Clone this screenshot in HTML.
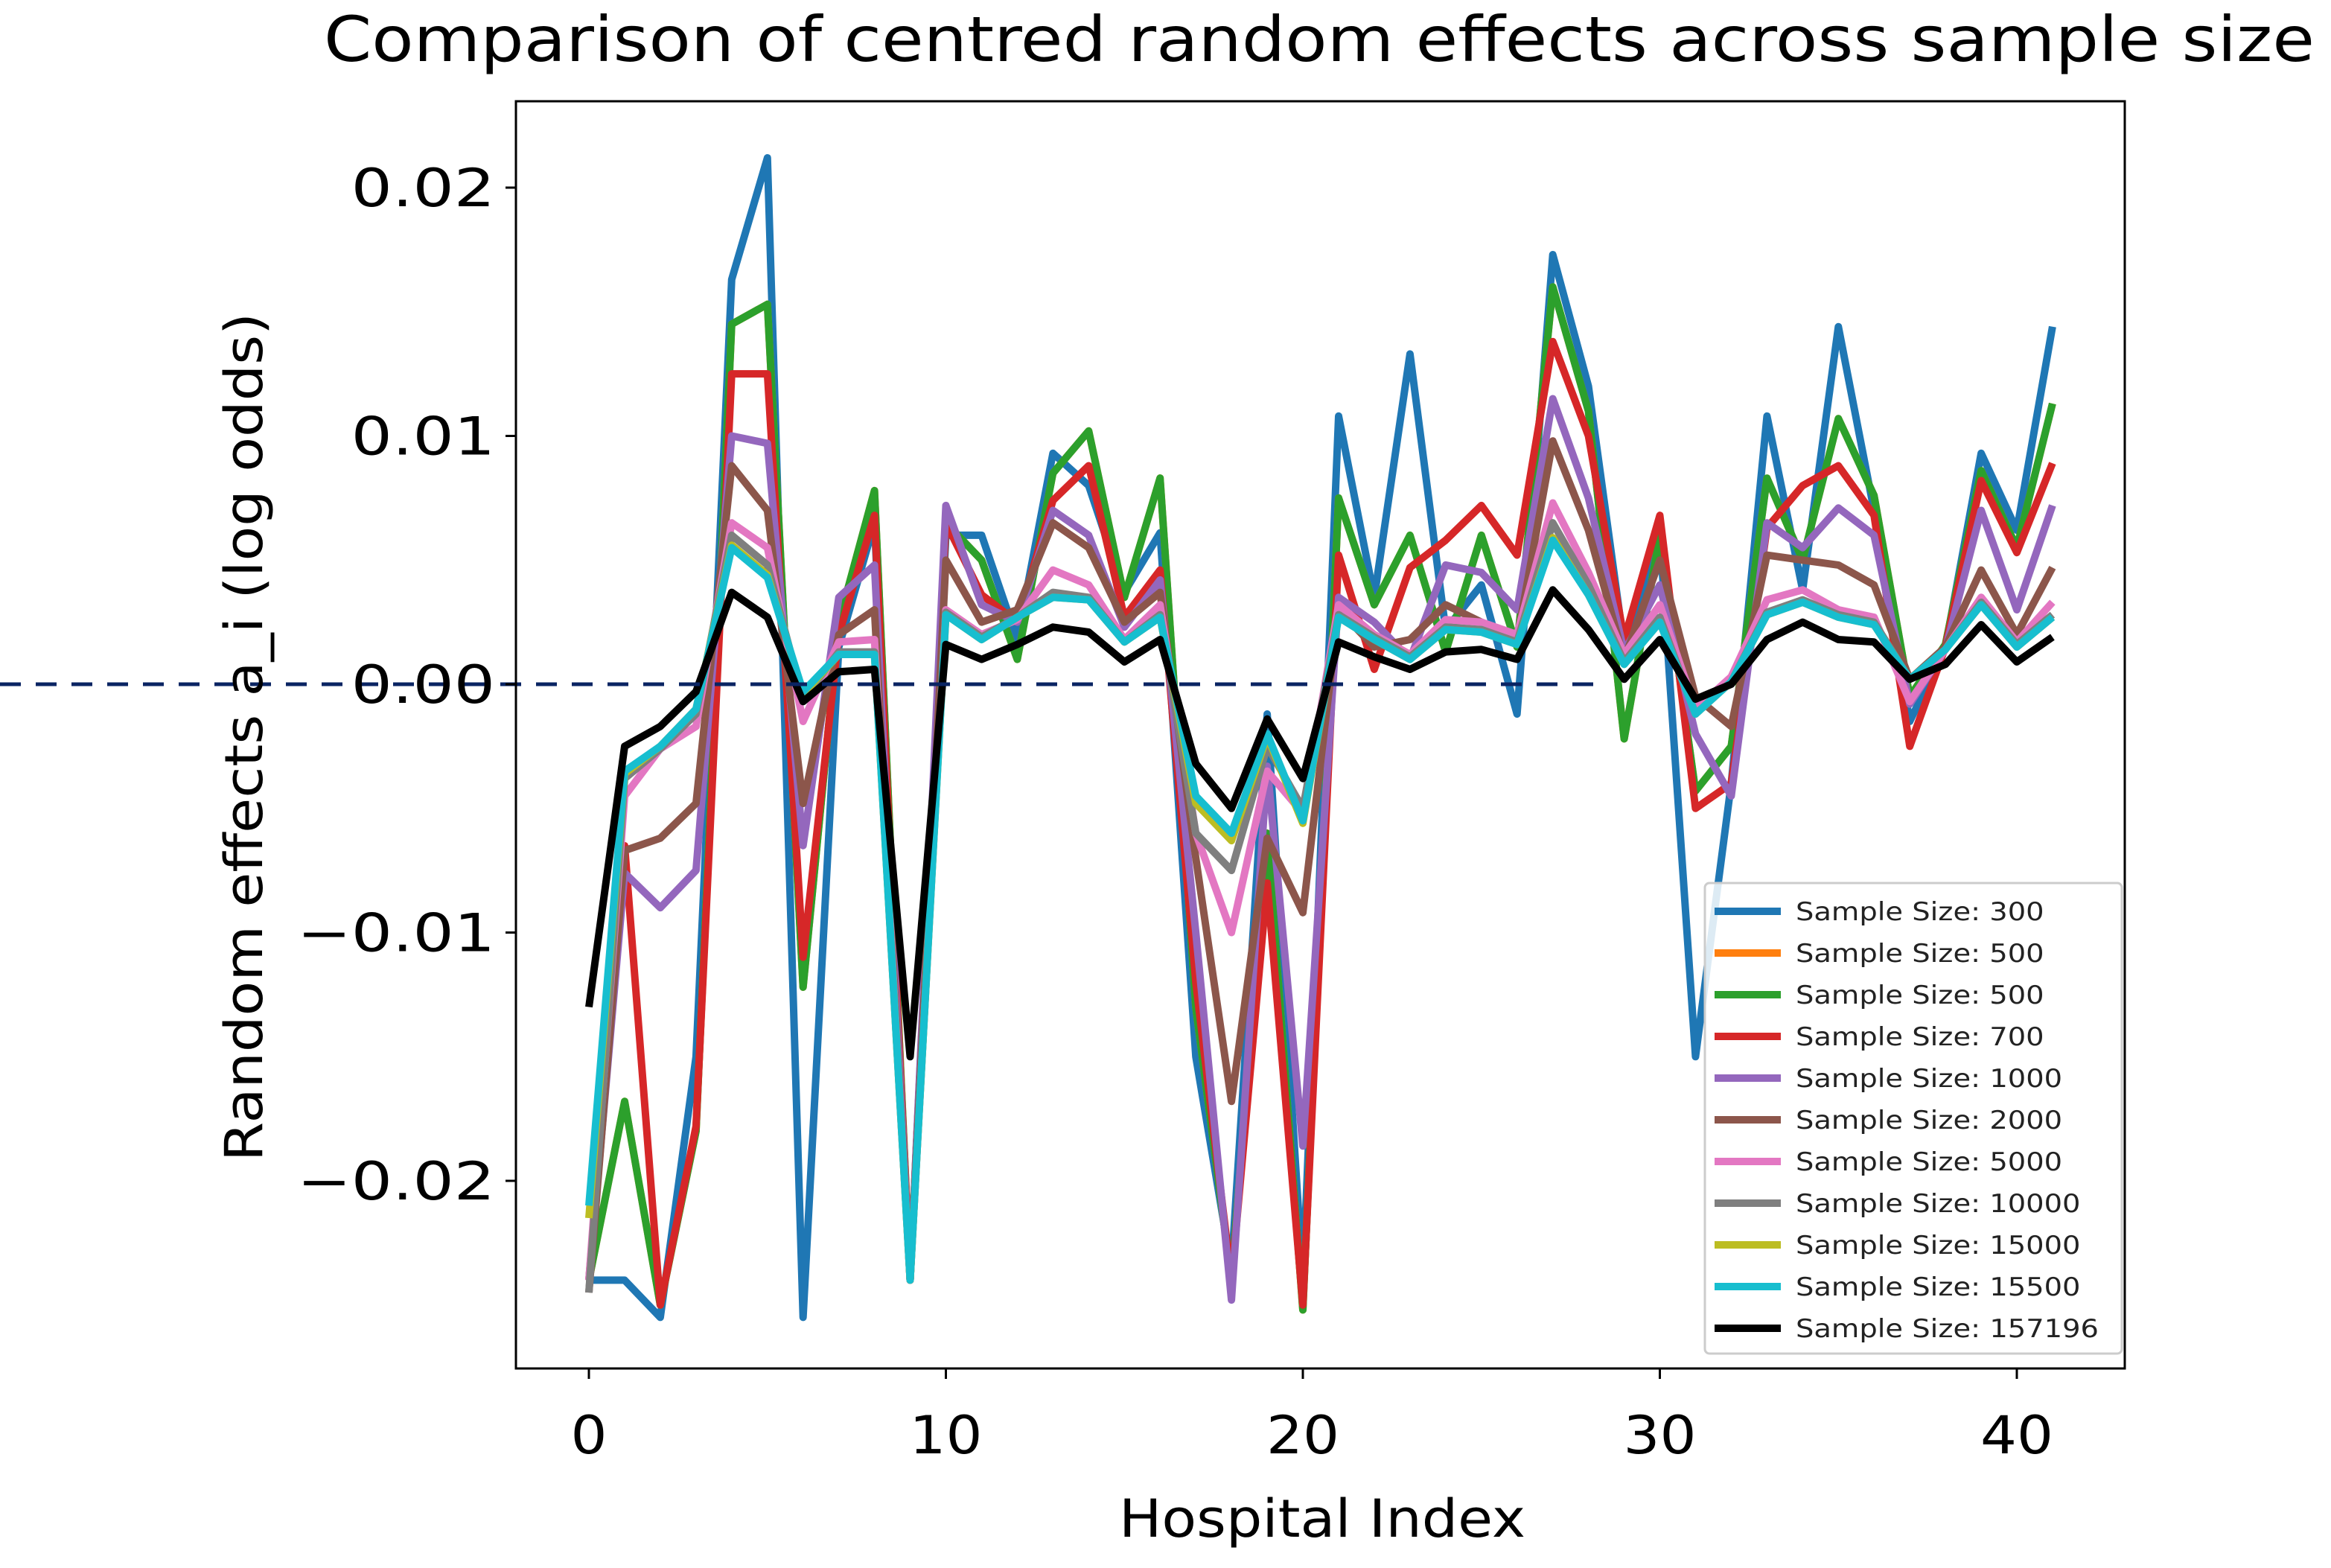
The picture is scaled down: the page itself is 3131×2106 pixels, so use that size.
<!DOCTYPE html>
<html><head><meta charset="utf-8"><style>
html,body{margin:0;padding:0;background:#fff;}
svg{display:block;font-family:"DejaVu Sans","Liberation Sans",sans-serif;}
</style></head><body>
<svg id="chart" width="3131" height="2106" viewBox="0 0 3131 2106" xmlns="http://www.w3.org/2000/svg">
<rect width="3131" height="2106" fill="#fff"/>
<text x="1772" y="82" font-size="84" text-anchor="middle" fill="#000" textLength="2674" lengthAdjust="spacingAndGlyphs">Comparison of centred random effects across sample size</text>
<g id="plot"></g>
<g id="axes"></g>
<g id="legend"></g>
<text x="1776" y="2064" font-size="70" text-anchor="middle" fill="#000" textLength="546" lengthAdjust="spacingAndGlyphs">Hospital Index</text>
<text transform="translate(352,990) rotate(-90)" font-size="70" text-anchor="middle" fill="#000" textLength="1140" lengthAdjust="spacingAndGlyphs">Random effects a_i (log odds)</text>
</svg>
<script>
const seriesLabels = ["Sample Size: 300","Sample Size: 500","Sample Size: 500","Sample Size: 700","Sample Size: 1000","Sample Size: 2000","Sample Size: 5000","Sample Size: 10000","Sample Size: 15000","Sample Size: 15500","Sample Size: 157196"];
const s300 = [-24,-24,-25.5,-15,16.3,21.2,-25.5,1.5,6.5,-24,6,6,1.8,9.3,8,3.7,6.1,-15,-23.5,-1.2,-24,10.8,3.5,13.3,2.2,4,-1.2,17.3,12,1.5,6,-15,-4,10.8,3.8,14.4,7,-1.5,1.5,9.3,6.2,14.4];
const s500a = [-24,-16.8,-25,-18,14.5,15.3,-12.2,2.5,7.8,-24,6.5,5,1,8.5,10.2,3.5,8.3,-13,-24,-6,-25.2,7.5,3.2,6,1.3,6,1.5,16,11,-2.2,6,-4.3,-2.5,8.3,5,10.7,7.6,-0.5,1.6,8.6,5.5,11.3];
const s500b = s500a.slice();
const s700 = [-24,-6.5,-25,-17.8,12.5,12.5,-11,2,6.8,-24,6.5,3.6,2.5,7.4,8.8,2.7,4.6,-12,-24,-8,-25,5.2,0.6,4.7,5.8,7.2,5.2,13.8,10,1.8,6.8,-5,-4,6.3,8,8.8,6.8,-2.5,1.5,8.2,5.3,8.9];
const s1000 = [-24,-7.6,-9,-7.5,10,9.7,-6.5,3.5,4.8,-24,7.2,3.2,2.5,7,6,2.3,4.2,-10,-24.8,-3.3,-18.6,3.5,2.5,1,4.8,4.5,3,11.5,7.5,1.3,4,-2,-4.5,6.5,5.5,7.1,6,-0.8,1.4,7,3,7.2];
const s2000 = [-24.5,-6.7,-6.2,-4.8,8.8,7,-4.8,2,3,-24,5,2.5,3,6.5,5.5,2.5,3.7,-7,-16.8,-6.2,-9.2,3,1.5,1.8,3.2,2.5,1.8,9.8,6.2,1,5,-0.5,-1.7,5.2,5,4.8,4,0.2,1.5,4.6,2,4.7];
const s5000 = [-24,-4.5,-2.6,-1.7,6.5,5.5,-1.5,1.7,1.8,-24,3,2,2.6,4.6,4,1.8,3.2,-6,-10,-3.5,-5.2,3.2,2,1.2,2.6,2.5,2,7.3,4.5,1.2,3.2,-1,0.3,3.4,3.8,3,2.7,-0.7,1.4,3.5,1.7,3.3];
const s10000 = [-24.5,-3.8,-2.6,-1.2,6,4.8,-0.6,1.3,1.3,-24,2.9,1.9,2.7,3.7,3.5,1.7,2.8,-6,-7.5,-2.5,-5,2.8,1.9,1.1,2.3,2.2,1.7,6.5,4,0.9,2.7,-1.2,0.1,2.9,3.4,2.8,2.5,0.2,1.4,3.3,1.6,2.8];
const s15000 = [-21.5,-3.6,-2.5,-1,5.6,4.4,-0.4,1.2,1.2,-24,2.8,1.8,2.7,3.5,3.4,1.7,2.7,-4.8,-6.3,-2.1,-5.6,2.7,1.8,1,2.2,2.1,1.6,5.9,3.6,0.8,2.5,-1.2,0.1,2.8,3.3,2.7,2.4,0.2,1.4,3.2,1.5,2.7];
const s15500 = [-21,-3.5,-2.5,-1,5.5,4.3,-0.3,1.2,1.2,-24,2.8,1.8,2.7,3.5,3.4,1.7,2.7,-4.5,-6,-2,-5.5,2.7,1.8,1,2.2,2.1,1.6,5.8,3.6,0.8,2.5,-1.2,0.1,2.8,3.3,2.7,2.4,0.2,1.4,3.2,1.5,2.7];
const s157196 = [-13,-2.5,-1.7,-0.3,3.7,2.7,-0.7,0.5,0.6,-15,1.6,1,1.6,2.3,2.1,0.9,1.8,-3.2,-5,-1.4,-3.8,1.7,1.1,0.6,1.3,1.4,1,3.8,2.2,0.2,1.8,-0.6,0,1.8,2.5,1.8,1.7,0.2,0.8,2.4,0.9,1.9];
const yTickValues = [0.02,0.01,0,-0.01,-0.02];
const yTickLabels = ["0.02","0.01","0.00","\u22120.01","\u22120.02"];
const xTickValues = [0,10,20,30,40];
const xTickLabels = ["0","10","20","30","40"];

const allSeries = [s300,s500a,s500b,s700,s1000,s2000,s5000,s10000,s15000,s15500,s157196];
const colors = ["#1f77b4","#ff7f0e","#2ca02c","#d62728","#9467bd","#8c564b","#e377c2","#7f7f7f","#bcbd22","#17becf","#000000"];
const NS = "http://www.w3.org/2000/svg";
const X0 = 791, XU = 47.95, Y0 = 919, YU = 33.35;
const xs = i => X0 + i * XU;
const ys = v => Y0 - v * YU;
const L = 693, T = 136, R = 2854, B = 1838;
const STRETCH = 1.13;

const plot = document.getElementById('plot');
const clip = document.createElementNS(NS,'clipPath'); clip.setAttribute('id','clp');
const cr = document.createElementNS(NS,'rect');
cr.setAttribute('x',L); cr.setAttribute('y',T); cr.setAttribute('width',R-L); cr.setAttribute('height',B-T);
clip.appendChild(cr); document.getElementById('chart').appendChild(clip);
plot.setAttribute('clip-path','url(#clp)');

allSeries.forEach((s, k) => {
  const p = document.createElementNS(NS,'polyline');
  p.setAttribute('points', s.map((v,i)=>xs(i).toFixed(1)+','+ys(v).toFixed(1)).join(' '));
  p.setAttribute('fill','none'); p.setAttribute('stroke',colors[k]);
  p.setAttribute('stroke-width','10'); p.setAttribute('stroke-linejoin','round');
  
  
  plot.appendChild(p);
});

const axes = document.getElementById('axes');
const dash = document.createElementNS(NS,'line');
dash.setAttribute('x1',0); dash.setAttribute('x2',2160);
dash.setAttribute('y1',ys(0)); dash.setAttribute('y2',ys(0));
dash.setAttribute('stroke','#0a2463'); dash.setAttribute('stroke-width','5'); dash.setAttribute('stroke-dasharray','28 20');


axes.appendChild(dash);

const frame = document.createElementNS(NS,'rect');
frame.setAttribute('x',L); frame.setAttribute('y',T); frame.setAttribute('width',R-L); frame.setAttribute('height',B-T);
frame.setAttribute('fill','none'); frame.setAttribute('stroke','#000'); frame.setAttribute('stroke-width','3');


axes.appendChild(frame);

function stretchText(tx, f){
  const w = tx.getComputedTextLength();
  tx.setAttribute('textLength', (w*f).toFixed(1));
  tx.setAttribute('lengthAdjust','spacingAndGlyphs');
}

yTickValues.forEach((v,i) => {
  const y = ys(v*1000);
  const t = document.createElementNS(NS,'line');
  t.setAttribute('x1',L-14); t.setAttribute('x2',L); t.setAttribute('y1',y); t.setAttribute('y2',y);
  t.setAttribute('stroke','#000'); t.setAttribute('stroke-width','3');
  
  
  axes.appendChild(t);
  const tx = document.createElementNS(NS,'text');
  tx.setAttribute('x',L-28); tx.setAttribute('y',y+25); tx.setAttribute('font-size','70'); tx.setAttribute('text-anchor','end');
  tx.textContent = yTickLabels[i];
  
  
  axes.appendChild(tx);
  stretchText(tx, 1.24);
});
xTickValues.forEach((v,i) => {
  const x = xs(v);
  const t = document.createElementNS(NS,'line');
  t.setAttribute('x1',x); t.setAttribute('x2',x); t.setAttribute('y1',B); t.setAttribute('y2',B+14);
  t.setAttribute('stroke','#000'); t.setAttribute('stroke-width','3');
  
  
  axes.appendChild(t);
  const tx = document.createElementNS(NS,'text');
  tx.setAttribute('x',x); tx.setAttribute('y',B+114); tx.setAttribute('font-size','70'); tx.setAttribute('text-anchor','middle');
  tx.textContent = xTickLabels[i];
  
  
  axes.appendChild(tx);
  stretchText(tx, 1.1);
});

const lg = document.getElementById('legend');
const box = document.createElementNS(NS,'rect');
box.setAttribute('x',2290); box.setAttribute('y',1186); box.setAttribute('width',560); box.setAttribute('height',632);
box.setAttribute('rx',6); box.setAttribute('fill','#fff'); box.setAttribute('fill-opacity','0.85');
box.setAttribute('stroke','#ccc'); box.setAttribute('stroke-width','3');


lg.appendChild(box);
seriesLabels.forEach((lab,k) => {
  const y = 1224 + k*56;
  const ln = document.createElementNS(NS,'line');
  ln.setAttribute('x1',2303); ln.setAttribute('x2',2392); ln.setAttribute('y1',y); ln.setAttribute('y2',y);
  ln.setAttribute('stroke',colors[k]); ln.setAttribute('stroke-width','10');
  
  
  lg.appendChild(ln);
  const tx = document.createElementNS(NS,'text');
  tx.setAttribute('x',2412); tx.setAttribute('y',y+12); tx.setAttribute('font-size','34'); tx.setAttribute('fill','#222');
  tx.textContent = lab;
  
  
  lg.appendChild(tx);
  stretchText(tx, STRETCH);
});
</script>
</body></html>
